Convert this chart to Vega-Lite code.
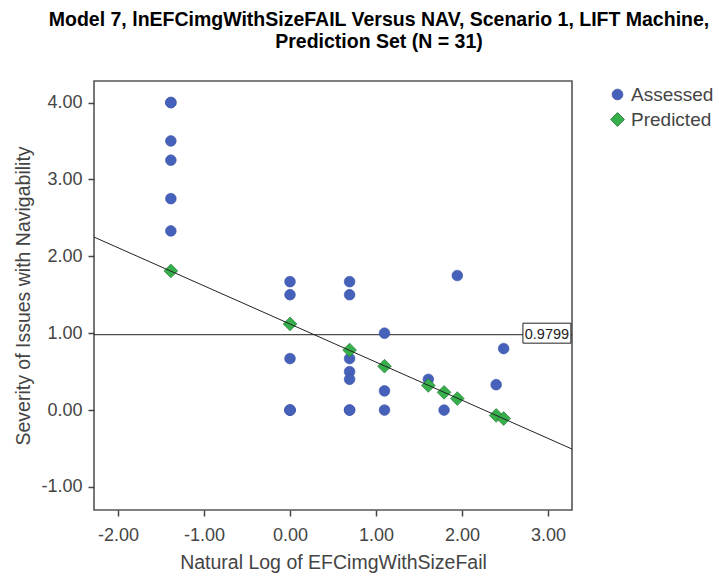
{
  "$schema": "https://vega.github.io/schema/vega-lite/v6.json",
  "autosize": "none",
  "width": 478,
  "height": 429,
  "padding": {"left": 94, "top": 81, "right": 147, "bottom": 66},
  "background": "white",
  "title": {
    "text": ["Model 7, lnEFCimgWithSizeFAIL Versus NAV, Scenario 1, LIFT Machine,", "Prediction Set (N = 31)"],
    "font": "Liberation Sans",
    "fontSize": 19.5,
    "fontWeight": "bold",
    "color": "#000000",
    "anchor": "middle",
    "dx": 46,
    "offset": 29,
    "lineHeight": 21.5
  },
  "config": {
    "view": {"stroke": "#555555", "strokeWidth": 1.6},
    "axis": {
      "grid": false,
      "domain": false,
      "tickColor": "#444444",
      "tickSize": 6,
      "tickWidth": 1.5,
      "labelFont": "Liberation Sans",
      "labelFontSize": 18,
      "labelColor": "#444444",
      "titleFont": "Liberation Sans",
      "titleFontSize": 19.5,
      "titleFontWeight": "normal",
      "titleColor": "#444444"
    }
  },
  "datasets": {
    "points": [
      {"x": -1.386, "y": 4.0, "type": "Assessed"},
      {"x": -1.386, "y": 4.0, "type": "Assessed"},
      {"x": -1.386, "y": 3.5, "type": "Assessed"},
      {"x": -1.386, "y": 3.25, "type": "Assessed"},
      {"x": -1.386, "y": 2.75, "type": "Assessed"},
      {"x": -1.386, "y": 2.33, "type": "Assessed"},
      {"x": 0, "y": 1.67, "type": "Assessed"},
      {"x": 0, "y": 1.5, "type": "Assessed"},
      {"x": 0, "y": 0.67, "type": "Assessed"},
      {"x": 0, "y": 0, "type": "Assessed"},
      {"x": 0, "y": 0, "type": "Assessed"},
      {"x": 0, "y": 0, "type": "Assessed"},
      {"x": 0.693, "y": 1.67, "type": "Assessed"},
      {"x": 0.693, "y": 1.5, "type": "Assessed"},
      {"x": 0.693, "y": 0.67, "type": "Assessed"},
      {"x": 0.693, "y": 0.5, "type": "Assessed"},
      {"x": 0.693, "y": 0.4, "type": "Assessed"},
      {"x": 0.693, "y": 0, "type": "Assessed"},
      {"x": 0.693, "y": 0, "type": "Assessed"},
      {"x": 1.099, "y": 1.0, "type": "Assessed"},
      {"x": 1.099, "y": 0.25, "type": "Assessed"},
      {"x": 1.099, "y": 0, "type": "Assessed"},
      {"x": 1.609, "y": 0.4, "type": "Assessed"},
      {"x": 1.792, "y": 0, "type": "Assessed"},
      {"x": 1.946, "y": 1.75, "type": "Assessed"},
      {"x": 2.398, "y": 0.33, "type": "Assessed"},
      {"x": 2.485, "y": 0.8, "type": "Assessed"},
      {"x": -1.386, "y": 1.81, "type": "Predicted"},
      {"x": 0, "y": 1.12, "type": "Predicted"},
      {"x": 0.693, "y": 0.78, "type": "Predicted"},
      {"x": 1.099, "y": 0.57, "type": "Predicted"},
      {"x": 1.609, "y": 0.32, "type": "Predicted"},
      {"x": 1.792, "y": 0.23, "type": "Predicted"},
      {"x": 1.946, "y": 0.15, "type": "Predicted"},
      {"x": 2.398, "y": -0.07, "type": "Predicted"},
      {"x": 2.485, "y": -0.11, "type": "Predicted"}
    ],
    "fit": [
      {"x": -2.28, "y": 2.25},
      {"x": 3.28, "y": -0.507}
    ],
    "mean": [
      {"value": 0.9799, "label": "0.9799", "x": 2.988, "x1": 2.709, "x2": 3.267, "y1": 1.13, "y2": 0.87}
    ]
  },
  "layer": [
    {
      "data": {"name": "mean"},
      "mark": {"type": "rule", "color": "#222222", "strokeWidth": 1},
      "encoding": {
        "y": {"field": "value", "type": "quantitative"}
      }
    },
    {
      "data": {"name": "points"},
      "mark": {"type": "point", "filled": true, "opacity": 1, "strokeWidth": 0.6},
      "encoding": {
        "x": {
          "field": "x", "type": "quantitative",
          "scale": {"domain": [-2.28, 3.28], "nice": false, "zero": false},
          "axis": {"values": [-2, -1, 0, 1, 2, 3], "title": "Natural Log of EFCimgWithSizeFail",
                   "labelExpr": "replace(format(datum.value, '.2f'), '\u2212', '-')",
                   "labelPadding": 10, "titlePadding": 9}
        },
        "y": {
          "field": "y", "type": "quantitative",
          "scale": {"domain": [-1.3, 4.28], "nice": false, "zero": false},
          "axis": {"values": [-1, 0, 1, 2, 3, 4], "title": "Severity of Issues with Navigability",
                   "labelExpr": "replace(format(datum.value, '.2f'), '\u2212', '-')",
                   "labelPadding": 6, "titlePadding": 7}
        },
        "color": {
          "field": "type", "type": "nominal",
          "scale": {"domain": ["Assessed", "Predicted"], "range": ["#4561BA", "#35B04B"]},
          "legend": {
            "title": null,
            "orient": "none",
            "legendX": 514,
            "legendY": 4,
            "labelFont": "Liberation Sans",
            "labelFontSize": 19,
            "labelColor": "#444444",
            "symbolSize": 110,
            "rowPadding": 5,
            "labelOffset": 4,
            "symbolStrokeWidth": 0.8
          }
        },
        "shape": {
          "field": "type", "type": "nominal",
          "scale": {"domain": ["Assessed", "Predicted"], "range": ["circle", "diamond"]}
        },
        "stroke": {
          "field": "type", "type": "nominal",
          "scale": {"domain": ["Assessed", "Predicted"], "range": ["#3a52a6", "#1f6b2c"]},
          "legend": null
        },
        "size": {
          "field": "type", "type": "nominal",
          "scale": {"domain": ["Assessed", "Predicted"], "range": [115, 190]},
          "legend": null
        }
      }
    },
    {
      "data": {"name": "fit"},
      "mark": {"type": "line", "color": "#222222", "strokeWidth": 1, "clip": true},
      "encoding": {
        "x": {"field": "x", "type": "quantitative"},
        "y": {"field": "y", "type": "quantitative"}
      }
    },
    {
      "data": {"name": "mean"},
      "mark": {"type": "rect", "fill": "white", "stroke": "#222222", "strokeWidth": 1},
      "encoding": {
        "x": {"field": "x1", "type": "quantitative"},
        "x2": {"field": "x2"},
        "y": {"field": "y1", "type": "quantitative"},
        "y2": {"field": "y2"}
      }
    },
    {
      "data": {"name": "mean"},
      "mark": {"type": "text", "font": "Liberation Sans", "fontSize": 14.5, "color": "#222222", "align": "center", "baseline": "middle"},
      "encoding": {
        "x": {"field": "x", "type": "quantitative"},
        "y": {"field": "value", "type": "quantitative"},
        "text": {"field": "label"}
      }
    }
  ]
}
